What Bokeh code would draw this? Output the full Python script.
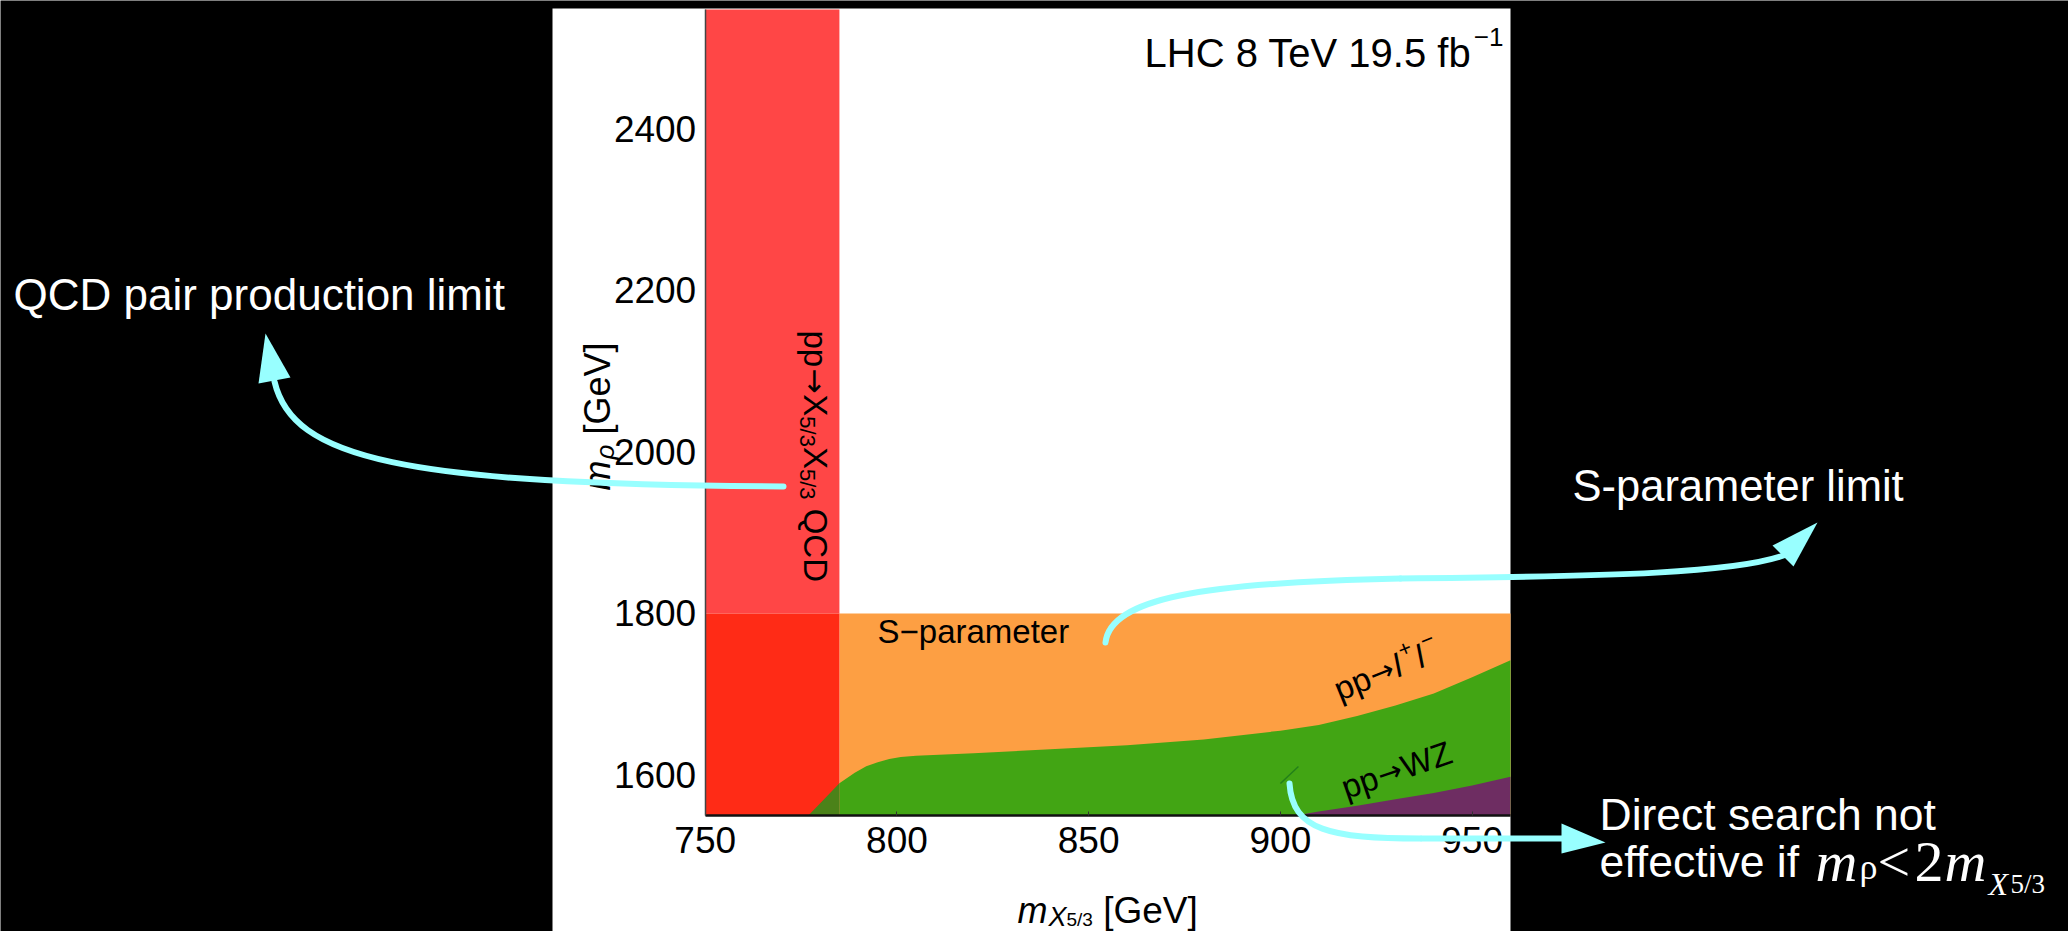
import math

from bokeh.embed import file_html
from bokeh.models import FixedTicker, Label, LinearAxis, Range1d
from bokeh.plotting import figure
from bokeh.resources import INLINE

# ---------------------------------------------------------------- data
x_ticks = [750, 800, 850, 900, 950]
y_ticks = [1600, 1800, 2000, 2200, 2400]

# plotted window [GeV]
mx_min, mx_max = 750, 960
mrho_min, mrho_max = 1550, 2547.5

qcd_bound = 785     # QCD pair production bound on m_X5/3
s_bound = 1800      # S-parameter bound on m_rho

# pp -> l+ l- : excluded below this boundary
ll_mx = [776.9, 781, 785, 789, 792, 795, 798, 801, 805, 820, 840, 860,
         880, 900, 910, 920, 930, 940, 950, 960]
ll_mrho = [1550, 1570, 1590, 1603, 1611, 1616, 1620, 1622.5, 1624, 1627,
           1632, 1637, 1644, 1655, 1662, 1673, 1686, 1701, 1721, 1742]

# pp -> WZ : excluded below this boundary
wz_mx = [904, 910, 920, 930, 940, 950, 960]
wz_mrho = [1550, 1555, 1562, 1570, 1578, 1587, 1598]

# stray contour piece of the WZ boundary
wz_stub_mx = [900.0, 904.7]
wz_stub_mrho = [1589.6, 1610.6]

# ---------------------------------------------------------------- colours
RED = "#FF4646"
RED_DEEP = "#FF2B16"
ORANGE = "#FD9F43"
GREEN = "#42A514"
OLIVE = "#4B8219"
PURPLE = "#6E2D62"
CYAN = "#98FFFF"

# ---------------------------------------------------------------- layout
W, H = 2068, 931
FRAME_L, FRAME_R = 704.7, 1510.0     # canvas columns of mx_min / mx_max
FRAME_T, FRAME_B = 9.0, 815.0        # canvas rows of mrho_max / mrho_min
kx = (FRAME_R - FRAME_L) / (mx_max - mx_min)
ky = (FRAME_B - FRAME_T) / (mrho_max - mrho_min)


def xd(px):
    return mx_min + (px - FRAME_L) / kx


def yd(py):
    return mrho_min + (FRAME_B - py) / ky


p = figure(width=W, height=H,
           x_range=Range1d(xd(0), xd(W)), y_range=Range1d(yd(H), yd(0)),
           x_axis_type=None, y_axis_type=None,
           output_backend="svg", toolbar_location=None, min_border=0,
           background_fill_color="black", border_fill_color="black",
           outline_line_color=None)

# white sheet carrying the plot
p.quad(left=xd(552), right=xd(1510), bottom=yd(H), top=yd(8),
       fill_color="white", line_color=None)

# excluded regions
p.quad(left=qcd_bound, right=mx_max, bottom=mrho_min, top=s_bound,
       fill_color=ORANGE, line_color=None)
p.quad(left=mx_min, right=qcd_bound, bottom=s_bound, top=mrho_max,
       fill_color=RED, line_color=None)
p.quad(left=mx_min, right=qcd_bound, bottom=mrho_min, top=s_bound,
       fill_color=RED_DEEP, line_color=None)
i = ll_mx.index(qcd_bound)
p.patch(ll_mx[i:] + [mx_max, qcd_bound], ll_mrho[i:] + [mrho_min, mrho_min],
        fill_color=GREEN, line_color=None)
p.patch(ll_mx[:i + 1] + [qcd_bound], ll_mrho[:i + 1] + [mrho_min],
        fill_color=OLIVE, line_color=None)
p.patch(wz_mx + [mx_max], wz_mrho + [mrho_min],
        fill_color=PURPLE, line_color=None)
p.line(wz_stub_mx, wz_stub_mrho, line_color="#23801A", line_width=1.5)

# axes drawn along the plot window
TICK_FONT = "Liberation Sans"
xax = LinearAxis(fixed_location=mrho_min, bounds=(mx_min, mx_max),
                 ticker=FixedTicker(ticks=x_ticks))
yax = LinearAxis(fixed_location=mx_min, bounds=(mrho_min, mrho_max),
                 ticker=FixedTicker(ticks=y_ticks))
for ax in (xax, yax):
    ax.major_tick_out = 0
    ax.minor_tick_in = 0
    ax.minor_tick_out = 0
    ax.major_label_text_font = TICK_FONT
    ax.major_label_text_font_size = "37px"
    ax.major_label_text_color = "black"
xax.axis_line_color = "#111111"
xax.axis_line_width = 2.5
xax.major_tick_in = 4
xax.major_tick_line_color = "#333333"
xax.major_label_standoff = 11
yax.axis_line_color = "#444444"
yax.axis_line_width = 1.5
yax.major_tick_in = 0
yax.major_label_standoff = 9
p.add_layout(xax, "below")
p.add_layout(yax, "left")

# ---------------------------------------------------------------- text
SANS_FONT = "Liberation Sans"
ARROW_FONT = "DejaVu Sans"
SERIF = "Liberation Serif"
SANS = {' ': .278, 'p': .556, 'a': .556, 'r': .333, 'm': .833, 'e': .556,
        't': .278, 'l': .222, 'i': .222, 'S': .667, '\u2212': .584, '-': .333,
        '\u2192': .838, '+': .584, 'W': .944, 'Z': .611, 'X': .667, '5': .556,
        '/': .278, '3': .556, 'Q': .778, 'C': .722, 'D': .722, '[': .278,
        ']': .278, 'G': .778, 'V': .667, '\u03c1': .578, 'L': .556, 'H': .722,
        'T': .611, 'f': .278, 'b': .556, '1': .556, '8': .556, '9': .556,
        '.': .278}


def put(px, py, txt, size, style="normal", color="black", font=SANS_FONT,
        angle=0.0):
    p.add_layout(Label(x=xd(px), y=yd(py), text=txt, angle=angle,
                       text_font=font, text_font_size=f"{size}px",
                       text_font_style=style, text_color=color,
                       text_align="left", text_baseline="alphabetic"))


def width(txt, size):
    return size * sum(SANS.get(c, .556) for c in txt)


def rich(px, py, angle_deg, pieces, color="black"):
    """Lay out (text, size, style, shift, gap[, font]) pieces along a rotated baseline."""
    th = math.radians(angle_deg)
    ux, uy = math.cos(th), -math.sin(th)
    vx, vy = math.sin(th), math.cos(th)
    u = 0.0
    for piece in pieces:
        txt, size, style, shift, gap = piece[:5]
        font = piece[5] if len(piece) > 5 else SANS_FONT
        lead = len(txt) - len(txt.lstrip(" "))
        u += width(" " * lead, size) + gap
        body = txt.lstrip(" ")
        put(px + u * ux + shift * vx, py + u * uy + shift * vy,
            body, size, style, color, font, angle=th)
        u += width(body, size)


ARROW = "\u2192"

# axis titles
rich(1017, 910, 0, [("m", 36, "italic", 0, 0), ("X", 27, "italic", 6, 1),
                    ("5/3", 19, "normal", 9, 0), (" [GeV]", 37, "normal", 0, 0)])
rich(597, 490, 90, [("m", 36, "italic", 0, 0), ("\u03c1", 26, "italic", 7, 1),
                    (" [GeV]", 36, "normal", 0, 0)])

# region labels
rich(815, 330, -90, [("pp", 33, "normal", 0, 0),
                     (ARROW, 30, "normal", 0, 1, ARROW_FONT),
                     ("X", 33, "normal", 0, 1),
                     ("5/3", 22, "normal", 8, 0), ("X", 33, "normal", 0, 0),
                     ("5/3", 22, "normal", 8, 0), (" QCD", 33, "normal", 0, 0)])
rich(877, 631, 0, [("S\u2212parameter", 33, "normal", 0, 0)])
rich(1335, 690, 22, [("pp", 33, "normal", 0, 0),
                     (ARROW, 29, "normal", 0, 1, ARROW_FONT),
                     ("l", 33, "italic", 0, 1),
                     ("+", 22, "normal", -13, 3), ("l", 33, "italic", 0, 1),
                     ("\u2212", 22, "normal", -13, 3)])
rich(1342, 788, 19, [("pp", 33, "normal", 0, 0),
                     (ARROW, 29, "normal", 0, 1, ARROW_FONT),
                     ("WZ", 33, "normal", 0, 1)])
rich(1144, 52, 0, [("LHC 8 TeV 19.5 fb", 40, "normal", 0, 0),
                   ("\u22121", 26, "normal", -16, -2)])

# side notes
rich(13, 294, 0, [("QCD pair production limit", 44, "normal", 0, 0)], "white")
rich(1572, 485, 0, [("S-parameter limit", 43.5, "normal", 0, 0)], "white")
rich(1599, 814, 0, [("Direct search not", 44.5, "normal", 0, 0)], "white")
rich(1599, 861, 0, [("effective if", 44.5, "normal", 0, 0)], "white")
put(1815, 861, "m", 58, "italic", "white", SERIF)
put(1859, 866, "\u03c1", 36, "normal", "white", SERIF)
put(1877, 861, "<", 58, "normal", "white", SERIF)
put(1914, 861, "2", 58, "normal", "white", SERIF)
put(1944, 861, "m", 58, "italic", "white", SERIF)
put(1988, 883, "X", 32, "italic", "white", SERIF)
put(2010, 883, "5/3", 27, "normal", "white", SERIF)

# ---------------------------------------------------------------- arrows


def curve(p0, p1, p2, p3):
    p.bezier(x0=xd(p0[0]), y0=yd(p0[1]), x1=xd(p3[0]), y1=yd(p3[1]),
             cx0=xd(p1[0]), cy0=yd(p1[1]), cx1=xd(p2[0]), cy1=yd(p2[1]),
             line_color=CYAN, line_width=6, line_cap="round", level="overlay")


heads = [
    [(265, 333), (258, 383), (290, 377)],
    [(1817, 522), (1772, 545), (1793, 566)],
    [(1605, 842), (1561, 823), (1561, 853)],
]

curve((783, 486), (400, 484), (292, 458), (274, 381))
curve((1105, 642), (1110, 598), (1200, 582), (1400, 578))
curve((1400, 578), (1620, 576), (1735, 572), (1783, 555))
curve((1289, 783), (1292, 830), (1330, 838), (1420, 838))
p.line([xd(1420), xd(1563)], [yd(838), yd(838)], line_color=CYAN,
       line_width=6, level="overlay")
p.patches([[xd(a) for a, _ in h] for h in heads],
          [[yd(b) for _, b in h] for h in heads],
          fill_color=CYAN, line_color=None, level="overlay")

open("out.html", "w").write(file_html(p, INLINE))
